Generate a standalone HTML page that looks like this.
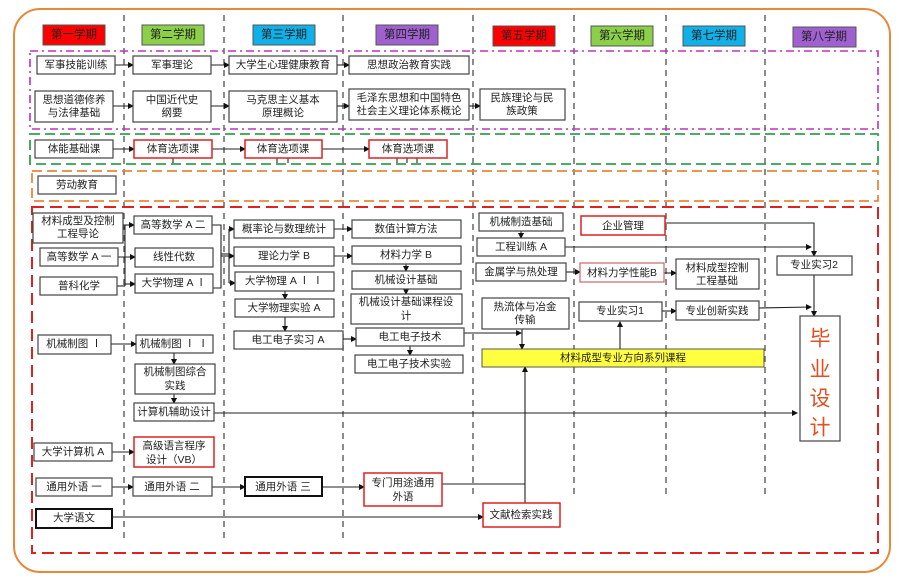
<!DOCTYPE html>
<html><head><meta charset="utf-8"><style>
body{margin:0;background:#fff;}
svg{display:block;font-family:"Liberation Sans","Noto Sans CJK SC",sans-serif;}
text{font-size:10.5px;fill:#222;text-anchor:middle;dominant-baseline:central;}
text.h{font-size:11.5px;}
text.big{font-size:21px;fill:#e05020;}
.b{fill:#fff;stroke:#444;stroke-width:1.2;}
.r{fill:#fff;stroke:#d22;stroke-width:1.5;}
.k{fill:#fff;stroke:#111;stroke-width:2;}
.l{stroke:#222;stroke-width:1.1;fill:none;}
.col{stroke:#666;stroke-width:1.5;stroke-dasharray:6,5;}
</style></head><body>
<svg width="902" height="580" viewBox="0 0 902 580">
<defs><marker id="a" markerWidth="6" markerHeight="6" refX="5" refY="3" orient="auto" markerUnits="userSpaceOnUse"><path d="M0,0L6,3L0,6z" fill="#111"/></marker></defs>
<rect x="14" y="9" width="876" height="563" rx="26" fill="none" stroke="#e8883a" stroke-width="2"/>
<g class="col">
<line x1="124" y1="15" x2="124" y2="540"/><line x1="224" y1="15" x2="224" y2="540"/><line x1="343" y1="15" x2="343" y2="540"/>
<line x1="473" y1="15" x2="473" y2="495"/><line x1="574" y1="15" x2="574" y2="495"/><line x1="666" y1="15" x2="666" y2="495"/><line x1="765" y1="15" x2="765" y2="495"/>
</g>
<g stroke="#555" stroke-width="1">
<rect x="43" y="25" width="62" height="20" fill="#f00"/><rect x="142" y="25" width="62" height="20" fill="#8cd04a"/>
<rect x="253" y="25" width="62" height="20" fill="#10b0e8"/><rect x="376" y="25" width="62" height="20" fill="#a060d0"/>
<rect x="493" y="26" width="62" height="20" fill="#f00"/><rect x="591" y="26" width="62" height="20" fill="#8cd04a"/>
<rect x="683" y="26" width="62" height="20" fill="#10b0e8"/><rect x="793" y="27" width="63" height="20" fill="#a060d0"/>
</g>
<g><text class="h" x="74" y="35">第一学期</text><text class="h" x="173" y="35">第二学期</text><text class="h" x="284" y="35">第三学期</text><text class="h" x="407" y="35">第四学期</text>
<text class="h" x="524" y="36">第五学期</text><text class="h" x="622" y="36">第六学期</text><text class="h" x="714" y="36">第七学期</text><text class="h" x="824" y="37">第八学期</text></g>
<rect x="30" y="51" width="848" height="78" fill="none" stroke="#c030c0" stroke-width="1.6" stroke-dasharray="8,4,2,4"/>
<rect x="30" y="134" width="848" height="30" fill="none" stroke="#30a050" stroke-width="1.8" stroke-dasharray="10,5"/>
<rect x="32" y="171" width="846" height="30" fill="none" stroke="#e8883a" stroke-width="1.8" stroke-dasharray="10,5"/>
<rect x="32" y="207" width="846" height="346" fill="none" stroke="#d22" stroke-width="2" stroke-dasharray="12,6"/>
<g class="l" marker-end="url(#a)">
<line x1="115" y1="65" x2="133" y2="65"/><line x1="211" y1="65" x2="229" y2="65"/><line x1="337" y1="65" x2="349" y2="65"/>
<line x1="113" y1="106" x2="133" y2="106"/><line x1="211" y1="106" x2="229" y2="106"/><line x1="337" y1="106" x2="349" y2="106"/><line x1="469" y1="106" x2="480" y2="106"/>
<line x1="113" y1="149" x2="134" y2="149"/><line x1="212" y1="149" x2="245" y2="149"/><line x1="322" y1="149" x2="369" y2="149"/>
<line x1="125" y1="225" x2="134" y2="225"/><line x1="118" y1="257" x2="135" y2="257"/><line x1="125" y1="284" x2="135" y2="284"/>
<line x1="229" y1="229" x2="234" y2="229"/><line x1="221" y1="256" x2="234" y2="256"/><line x1="229" y1="283" x2="235" y2="283"/>
<line x1="334" y1="229" x2="352" y2="229"/><line x1="334" y1="256" x2="352" y2="256"/>
<line x1="406" y1="264" x2="406" y2="271"/><line x1="406" y1="289" x2="406" y2="294"/>
<line x1="285" y1="291" x2="285" y2="299"/><line x1="285" y1="317" x2="285" y2="331"/>
<line x1="343" y1="339" x2="356" y2="339"/><line x1="410" y1="346" x2="410" y2="355"/>
<line x1="111" y1="344" x2="136" y2="344"/><line x1="174" y1="353" x2="174" y2="364"/><line x1="174" y1="394" x2="174" y2="403"/>
<line x1="112" y1="452" x2="134" y2="452"/>
<line x1="112" y1="487" x2="133" y2="487"/><line x1="212" y1="487" x2="245" y2="487"/><line x1="322" y1="487" x2="364" y2="487"/>
<line x1="112" y1="517" x2="483" y2="517"/>
<line x1="525" y1="503" x2="525" y2="367"/>
<polyline points="464,333 521,333"/><line x1="522" y1="329" x2="522" y2="349"/>
<line x1="521" y1="231" x2="521" y2="238"/>
<line x1="214" y1="413" x2="797" y2="413"/>
<line x1="566" y1="272" x2="580" y2="272"/><line x1="664" y1="273" x2="676" y2="273"/>
<line x1="662" y1="311" x2="676" y2="311"/><line x1="620" y1="349" x2="620" y2="322"/>
<polyline points="665,223 814,223 814,256"/><line x1="565" y1="247" x2="811" y2="247"/>
<line x1="759" y1="308" x2="811" y2="307"/><line x1="814" y1="275" x2="814" y2="316"/>
</g>
<g class="l">
<line x1="123" y1="228" x2="125" y2="228"/><line x1="125" y1="225" x2="125" y2="286"/><line x1="117" y1="286" x2="125" y2="286"/>
<polyline points="212,225 221,225 221,288 213,288"/><line x1="221" y1="254" x2="229" y2="254"/><line x1="229" y1="229" x2="229" y2="283"/>
<polyline points="442,484 525,484"/>
<line x1="173" y1="157" x2="173" y2="163"/><line x1="277" y1="157" x2="277" y2="163"/><line x1="288" y1="157" x2="288" y2="163"/>
<line x1="397" y1="157" x2="397" y2="163"/><line x1="407" y1="157" x2="407" y2="163"/><line x1="417" y1="157" x2="417" y2="163"/>
</g>
<g>
<rect class="b" x="37" y="56" width="78" height="18"/><text x="76" y="65">军事技能训练</text>
<rect class="b" x="133" y="56" width="78" height="18"/><text x="172" y="65">军事理论</text>
<rect class="b" x="229" y="56" width="108" height="18"/><text x="283" y="65">大学生心理健康教育</text>
<rect class="b" x="349" y="56" width="120" height="18"/><text x="409" y="65">思想政治教育实践</text>
<rect class="b" x="35" y="91" width="78" height="31"/><text x="74" y="100">思想道德修养</text><text x="74" y="113">与法律基础</text>
<rect class="b" x="133" y="91" width="78" height="31"/><text x="172" y="100">中国近代史</text><text x="172" y="113">纲要</text>
<rect class="b" x="229" y="91" width="108" height="31"/><text x="283" y="100">马克思主义基本</text><text x="283" y="113">原理概论</text>
<rect class="b" x="349" y="89" width="120" height="31"/><text x="409" y="98">毛泽东思想和中国特色</text><text x="409" y="111">社会主义理论体系概论</text>
<rect class="b" x="480" y="89" width="85" height="31"/><text x="522" y="98">民族理论与民</text><text x="522" y="111">族政策</text>
<rect class="b" x="35" y="140" width="78" height="18"/><text x="74" y="149">体能基础课</text>
<rect class="r" x="134" y="140" width="78" height="18"/><text x="173" y="149">体育选项课</text>
<rect class="r" x="245" y="140" width="77" height="18"/><text x="283" y="149">体育选项课</text>
<rect class="r" x="369" y="140" width="78" height="18"/><text x="408" y="149">体育选项课</text>
<rect class="b" x="38" y="176" width="78" height="18"/><text x="77" y="185">劳动教育</text>
<rect class="b" x="33" y="213" width="90" height="30"/><text x="78" y="221">材料成型及控制</text><text x="78" y="234">工程导论</text>
<rect class="b" x="40" y="248" width="78" height="18"/><text x="79" y="257">高等数学 A 一</text>
<rect class="b" x="40" y="277" width="77" height="18"/><text x="79" y="286">普科化学</text>
<rect class="b" x="134" y="216" width="78" height="18"/><text x="173" y="225">高等数学 A 二</text>
<rect class="b" x="135" y="248" width="78" height="19"/><text x="174" y="257">线性代数</text>
<rect class="b" x="135" y="274" width="78" height="19"/><text x="174" y="283">大学物理 A Ⅰ</text>
<rect class="b" x="234" y="220" width="100" height="18"/><text x="284" y="229">概率论与数理统计</text>
<rect class="b" x="234" y="247" width="100" height="19"/><text x="284" y="256">理论力学 B</text>
<rect class="b" x="235" y="272" width="99" height="19"/><text x="284" y="281">大学物理 A Ⅰ Ⅰ</text>
<rect class="b" x="235" y="299" width="99" height="18"/><text x="284" y="308">大学物理实验 A</text>
<rect class="b" x="234" y="331" width="109" height="18"/><text x="288" y="340">电工电子实习 A</text>
<rect class="b" x="352" y="220" width="109" height="18"/><text x="406" y="229">数值计算方法</text>
<rect class="b" x="352" y="246" width="109" height="18"/><text x="406" y="255">材料力学 B</text>
<rect class="b" x="352" y="271" width="109" height="18"/><text x="406" y="280">机械设计基础</text>
<rect class="b" x="351" y="294" width="111" height="30"/><text x="406" y="302">机械设计基础课程设</text><text x="406" y="316">计</text>
<rect class="b" x="356" y="328" width="108" height="18"/><text x="410" y="337">电工电子技术</text>
<rect class="b" x="355" y="355" width="108" height="18"/><text x="409" y="364">电工电子技术实验</text>
<rect class="b" x="38" y="335" width="73" height="19"/><text x="74" y="344">机械制图 Ⅰ</text>
<rect class="b" x="136" y="335" width="77" height="18"/><text x="174" y="344">机械制图 Ⅰ Ⅰ</text>
<rect class="b" x="135" y="364" width="80" height="30"/><text x="175" y="372">机械制图综合</text><text x="175" y="386">实践</text>
<rect class="b" x="134" y="403" width="80" height="18"/><text x="174" y="412">计算机辅助设计</text>
<rect class="b" x="34" y="443" width="78" height="18"/><text x="73" y="452">大学计算机 A</text>
<rect class="r" x="134" y="437" width="80" height="30"/><text x="174" y="446">高级语言程序</text><text x="174" y="460">设计（VB）</text>
<rect class="b" x="36" y="478" width="76" height="18"/><text x="74" y="487">通用外语 一</text>
<rect class="b" x="133" y="477" width="79" height="19"/><text x="172" y="487">通用外语 二</text>
<rect class="k" x="245" y="477" width="77" height="19"/><text x="283" y="487">通用外语 三</text>
<rect class="r" x="364" y="473" width="78" height="33"/><text x="403" y="483">专门用途通用</text><text x="403" y="497">外语</text>
<rect class="k" x="36" y="509" width="76" height="19"/><text x="74" y="518">大学语文</text>
<rect class="r" x="483" y="503" width="77" height="24"/><text x="521" y="515">文献检索实践</text>
<rect class="b" x="479" y="213" width="84" height="18"/><text x="521" y="222">机械制造基础</text>
<rect class="b" x="477" y="238" width="88" height="18"/><text x="521" y="247">工程训练 A</text>
<rect class="b" x="476" y="263" width="90" height="18"/><text x="521" y="272">金属学与热处理</text>
<rect class="b" x="482" y="298" width="87" height="31"/><text x="525" y="307">热流体与冶金</text><text x="525" y="320">传输</text>
<rect class="r" x="581" y="216" width="84" height="19"/><text x="623" y="226">企业管理</text>
<rect x="580" y="263" width="84" height="19" fill="#fff" stroke="#c66" stroke-width="1.2"/><text x="622" y="273">材料力学性能B</text>
<rect class="b" x="579" y="302" width="83" height="19"/><text x="620" y="311">专业实习1</text>
<rect class="b" x="676" y="259" width="83" height="30"/><text x="717" y="268">材料成型控制</text><text x="717" y="281">工程基础</text>
<rect class="b" x="676" y="301" width="83" height="19"/><text x="717" y="311">专业创新实践</text>
<rect class="b" x="777" y="256" width="75" height="19"/><text x="814" y="265">专业实习2</text>
<rect x="482" y="349" width="282" height="18" fill="#ffff40" stroke="#555" stroke-width="1"/><text x="623" y="358">材料成型专业方向系列课程</text>
<rect class="b" x="800" y="316" width="40" height="125"/>
<text class="big" x="820" y="339">毕</text><text class="big" x="820" y="370">业</text><text class="big" x="820" y="399">设</text><text class="big" x="820" y="428">计</text>
</g>
</svg>
</body></html>
